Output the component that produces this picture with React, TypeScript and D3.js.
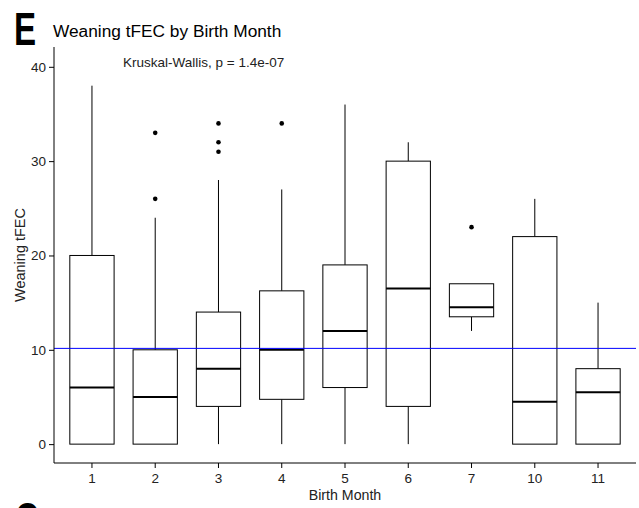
import { useEffect, useRef } from 'react';
import * as d3 from 'd3';

// box summaries (tFEC at weaning)
const months = ['1', '2', '3', '4', '5', '6', '7', '10', '11'];
const lowerWhisker = [0, 0, 0, 0, 0, 0, 12, 0, 0];
const q1 = [0, 0, 4, 4.75, 6, 4, 13.5, 0, 0];
const medians = [6, 5, 8, 10, 12, 16.5, 14.5, 4.5, 5.5];
const q3 = [20, 10, 14, 16.25, 19, 30, 17, 22, 8];
const upperWhisker = [38, 24, 28, 27, 36, 32, 17, 26, 15];
const outliers = [[], [26, 33], [31, 32, 34], [34], [], [], [23], [], []];
const overallMean = 10.15;
const yTicks = [0, 10, 20, 30, 40];

const font = 'Liberation Sans, Arial, sans-serif';

const App = () => {
  const svgRef = useRef(null);

  useEffect(() => {
    const width = 639;
    const height = 508;
    const left = 54;
    const right = 636;
    const top = 47;
    const bottom = 463;

    const svg = d3
      .select(svgRef.current)
      .attr('width', width)
      .attr('height', height)
      .style('position', 'absolute')
      .style('left', 0)
      .style('top', 0)
      .style('font-family', font);
    svg.selectAll('*').remove();

    const x = d3.scaleBand().domain(months).range([left, right]).paddingOuter(0.1).paddingInner(0);
    const y = d3.scaleLinear().domain([-2.0, 42.1]).range([bottom, top]);
    const boxW = x.bandwidth() * 0.7;

    const data = months.map((m, i) => ({
      m,
      lo: lowerWhisker[i],
      q1: q1[i],
      med: medians[i],
      q3: q3[i],
      hi: upperWhisker[i],
      out: outliers[i],
    }));

    const g = svg.append('g');
    const cx = (d) => x(d.m) + x.bandwidth() / 2;

    // whiskers
    g.selectAll('.wh-up')
      .data(data)
      .join('line')
      .attr('x1', cx)
      .attr('x2', cx)
      .attr('y1', (d) => y(d.q3))
      .attr('y2', (d) => y(d.hi))
      .attr('stroke', '#000')
      .attr('stroke-width', 1);
    g.selectAll('.wh-lo')
      .data(data)
      .join('line')
      .attr('x1', cx)
      .attr('x2', cx)
      .attr('y1', (d) => y(d.q1))
      .attr('y2', (d) => y(d.lo))
      .attr('stroke', '#000')
      .attr('stroke-width', 1);

    // boxes
    g.selectAll('rect')
      .data(data)
      .join('rect')
      .attr('x', (d) => cx(d) - boxW / 2)
      .attr('width', boxW)
      .attr('y', (d) => y(d.q3))
      .attr('height', (d) => y(d.q1) - y(d.q3))
      .attr('fill', '#fff')
      .attr('stroke', '#000')
      .attr('stroke-width', 1);

    // medians
    g.selectAll('.med')
      .data(data)
      .join('line')
      .attr('x1', (d) => cx(d) - boxW / 2)
      .attr('x2', (d) => cx(d) + boxW / 2)
      .attr('y1', (d) => y(d.med))
      .attr('y2', (d) => y(d.med))
      .attr('stroke', '#000')
      .attr('stroke-width', 2);

    // outliers
    data.forEach((d) => {
      g.selectAll(null)
        .data(d.out)
        .join('circle')
        .attr('cx', cx(d))
        .attr('cy', (v) => y(v))
        .attr('r', 2.3)
        .attr('fill', '#000');
    });

    // mean line
    svg
      .append('line')
      .attr('x1', left)
      .attr('x2', right)
      .attr('y1', y(overallMean))
      .attr('y2', y(overallMean))
      .attr('stroke', '#0000ff')
      .attr('stroke-width', 1);

    // axes
    const yAxis = svg
      .append('g')
      .attr('transform', `translate(${left},0)`)
      .call(d3.axisLeft(y).tickValues(yTicks).tickSize(5).tickPadding(3));
    yAxis.select('.domain').attr('d', `M0,${top}V${bottom}`);
    const xAxis = svg
      .append('g')
      .attr('transform', `translate(0,${bottom})`)
      .call(d3.axisBottom(x).tickSize(5).tickPadding(5));
    xAxis.select('.domain').attr('d', `M${left},0H${right}`);
    [yAxis, xAxis].forEach((a) => {
      a.selectAll('text').attr('font-size', 13.5).attr('font-family', font).attr('fill', '#222');
      a.selectAll('line, path').attr('stroke', '#000');
    });

    // labels
    svg
      .append('text')
      .attr('x', 53)
      .attr('y', 37)
      .attr('font-size', 17.3)
      .text('Weaning tFEC by Birth Month');
    svg
      .append('text')
      .attr('transform', 'translate(14,45) scale(0.72,1)')
      .attr('font-size', 46)
      .attr('font-weight', 'bold')
      .text('E');
    svg
      .append('text')
      .attr('transform', 'translate(15,535) scale(0.72,1)')
      .attr('font-size', 46)
      .attr('font-weight', 'bold')
      .text('C');
    svg
      .append('text')
      .attr('x', 123)
      .attr('y', 67)
      .attr('font-size', 13.5)
      .attr('fill', '#222')
      .text('Kruskal-Wallis, p = 1.4e-07');
    svg
      .append('text')
      .attr('transform', `translate(25,${(top + bottom) / 2}) rotate(-90)`)
      .attr('text-anchor', 'middle')
      .attr('font-size', 14.5)
      .attr('fill', '#222')
      .text('Weaning tFEC');
    svg
      .append('text')
      .attr('x', (left + right) / 2)
      .attr('y', 500)
      .attr('text-anchor', 'middle')
      .attr('font-size', 14.2)
      .attr('fill', '#222')
      .text('Birth Month');
  }, []);

  return <svg ref={svgRef}></svg>;
};

export default App;
